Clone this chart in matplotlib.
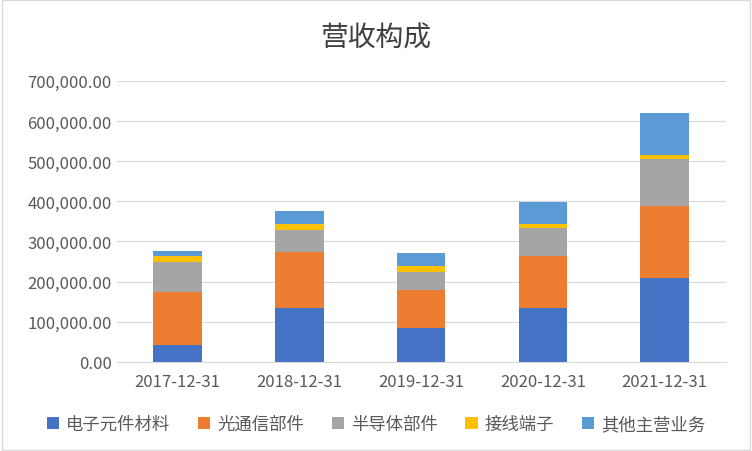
import matplotlib
matplotlib.use("Agg")
import matplotlib.pyplot as plt
from matplotlib.ticker import FuncFormatter
from matplotlib.patches import Rectangle
import numpy as np

plt.rcParams["font.family"] = ["Noto Sans CJK JP", "Noto Sans CJK SC", "DejaVu Sans"]

categories = ["2017-12-31", "2018-12-31", "2019-12-31", "2020-12-31", "2021-12-31"]
series_names = ["电子元件材料", "光通信部件", "半导体部件", "接线端子", "其他主营业务"]
s1 = [42000, 135000, 85000, 135000, 209000]
s2 = [133000, 139000, 95000, 129000, 180000]
s3 = [74000, 55000, 44000, 70000, 117000]
s4 = [15000, 15000, 15000, 10000, 10000]
s5 = [13000, 33000, 33000, 55000, 105000]
colors = ["#4472C4", "#ED7D31", "#A5A5A5", "#FFC000", "#5B9BD5"]

fig = plt.figure(figsize=(7.52, 4.52), dpi=100)
fig.patches.append(Rectangle((0.002, 0.003), 0.995, 0.994, transform=fig.transFigure,
                             fill=False, edgecolor="#D9D9D9", linewidth=1))
ax = fig.add_axes([0.155, 0.197, 0.81, 0.622])
x = np.arange(len(categories))
bottom = np.zeros(len(categories))
for name, vals, c in zip(series_names, [s1, s2, s3, s4, s5], colors):
    ax.bar(x, vals, 0.4, bottom=bottom, color=c, label=name)
    bottom += np.array(vals)

ax.set_ylim(0, 700000)
ax.set_yticks(np.arange(0, 700001, 100000))
ax.yaxis.set_major_formatter(FuncFormatter(lambda v, p: f"{v:,.2f}"))
ax.set_xticks(x)
ax.set_xticklabels(categories)
ax.set_xlim(-0.5, 4.5)
ax.grid(axis="y", color="#D9D9D9", linewidth=0.8)
ax.set_axisbelow(True)
for s in ["top", "right", "left"]:
    ax.spines[s].set_visible(False)
ax.spines["bottom"].set_color("#D9D9D9")
ax.tick_params(length=0, labelsize=12, colors="#595959")
ax.tick_params(axis="x", pad=8)
fig.text(0.5, 0.915, "营收构成", ha="center", va="center", fontsize=20, color="#404040")
fig.legend(loc="lower center", ncol=5, frameon=False, fontsize=12.5,
           bbox_to_anchor=(0.5, 0.005), handlelength=0.7, handleheight=0.7,
           columnspacing=1.6, handletextpad=0.4, labelcolor="#595959")
fig.savefig("out.png", dpi=100)
